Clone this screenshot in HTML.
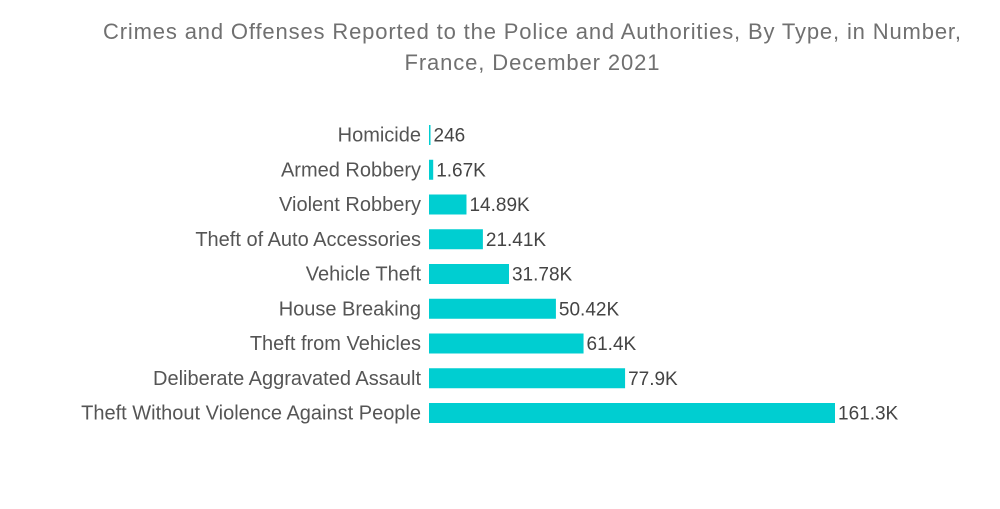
<!DOCTYPE html>
<html><head><meta charset="utf-8"><style>
body{margin:0;background:#fff;width:1000px;height:504px;overflow:hidden;font-family:"Liberation Sans",sans-serif}
</style></head><body>
<svg id="chart" width="1000" height="504">
<text x="532" y="39" text-anchor="middle" font-size="22" fill="#707070" textLength="858" lengthAdjust="spacing">Crimes and Offenses Reported to the Police and Authorities, By Type, in Number,</text>
<text x="532" y="70" text-anchor="middle" font-size="22" fill="#707070" textLength="255" lengthAdjust="spacing">France, December 2021</text>
<g id="bars"></g>
</svg>
<script>
const categories=["Homicide","Armed Robbery","Violent Robbery","Theft of Auto Accessories","Vehicle Theft","House Breaking","Theft from Vehicles","Deliberate Aggravated Assault","Theft Without Violence Against People"];
const values=[246,1670,14890,21410,31780,50420,61400,77900,161300];
const valueLabels=["246","1.67K","14.89K","21.41K","31.78K","50.42K","61.4K","77.9K","161.3K"];
const x0=429,pxPer=406/161300,y0=135,step=34.75,bh=20;
const xs=v=>v*pxPer, ys=i=>y0+i*step;
const g=document.getElementById('bars'),NS="http://www.w3.org/2000/svg";
categories.forEach((c,i)=>{
 const cy=ys(i),w=Math.max(xs(values[i]),1.5);
 const t=document.createElementNS(NS,'text');
 
 
 t.setAttribute('x',421);t.setAttribute('y',cy+6.5);t.setAttribute('text-anchor','end');
 t.setAttribute('font-size','20');t.setAttribute('fill','#555');t.textContent=c;g.appendChild(t);
 const r=document.createElementNS(NS,'rect');
 
 
 r.setAttribute('x',x0);r.setAttribute('y',cy-bh/2);r.setAttribute('width',w);r.setAttribute('height',bh);
 r.setAttribute('fill','#00CED1');g.appendChild(r);
 const v=document.createElementNS(NS,'text');
 
 
 v.setAttribute('x',x0+w+3);v.setAttribute('y',cy+6.5);
 v.setAttribute('font-size','19');v.setAttribute('fill','#444');v.textContent=valueLabels[i];g.appendChild(v);
});
</script>
</body></html>
